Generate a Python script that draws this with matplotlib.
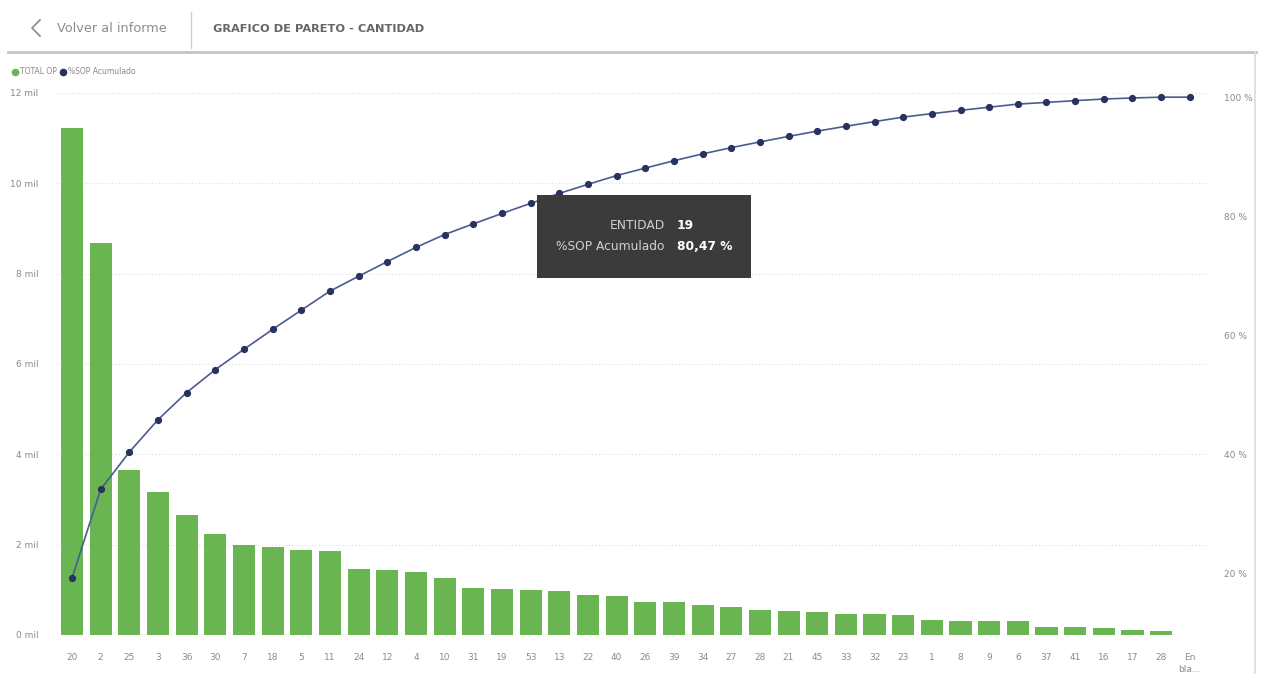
import numpy as np
import matplotlib
matplotlib.use("Agg")
import matplotlib.pyplot as plt
from matplotlib.lines import Line2D
from matplotlib.patches import Rectangle
from matplotlib.ticker import FixedLocator, FuncFormatter

# Entities ordered by TOTAL OP (descending)
entidades = ["20", "2", "25", "3", "36", "30", "7", "18", "5", "11",
             "24", "12", "4", "10", "31", "19", "53", "13", "22", "40",
             "26", "39", "34", "27", "28", "21", "45", "33", "32", "23",
             "1", "8", "9", "6", "37", "41", "16", "17", "28", "En\nbla..."]

total_op = [11220, 8680, 3650, 3170, 2660, 2240, 1990, 1950, 1880, 1860,
            1460, 1430, 1390, 1260, 1040, 1020, 990, 970, 890, 860,
            730, 720, 670, 610, 560, 540, 520, 470, 460, 440,
            340, 320, 310, 300, 170, 170, 160, 100, 80, 0]

left_ticks = [0, 2000, 4000, 6000, 8000, 10000, 12000]
right_ticks = [20, 40, 60, 80, 100]

vals = np.array(total_op, dtype=float)
sop_acumulado = np.cumsum(vals) / vals.sum() * 100

W, H = 1261, 674
fig = plt.figure(figsize=(W / 100, H / 100), dpi=100)
fig.patch.set_facecolor("white")


def px(x, y):
    return x / W, 1 - y / H


# Plot area
ax = fig.add_axes([54.8 / W, 1 - 635 / H, (1207 - 54.8) / W, (635 - 93) / H])
x = np.arange(len(entidades))
ax.bar(x, vals, width=0.77, color="#68b552", zorder=2)
ax.set_xlim(-0.6, len(entidades) - 0.4)
ax.set_ylim(0, 12000)
ax.yaxis.set_major_locator(FixedLocator(left_ticks))
ax.yaxis.set_major_formatter(FuncFormatter(lambda v, p: f"{v / 1000:.0f} mil"))
ax.set_xticks(x)
ax.set_xticklabels(entidades, fontsize=6.5, color="#8a8a8a", linespacing=1.4)
ax.tick_params(axis="x", length=0, pad=13)
ax.tick_params(axis="y", length=0, pad=12, labelsize=6.5, labelcolor="#8a8a8a")
ax.grid(axis="y", color="#dedede", linestyle=(0, (1, 2)), linewidth=0.8, zorder=0)
for s in ax.spines.values():
    s.set_visible(False)

ax2 = ax.twinx()
ax2.plot(x, sop_acumulado, color="#4d5b8f", linewidth=1.2, marker="o",
         markersize=4.2, markerfacecolor="#28325f", markeredgecolor="#28325f", zorder=3)
ax2.set_ylim(9.7, 100.7)
ax2.yaxis.set_major_locator(FixedLocator(right_ticks))
ax2.yaxis.set_major_formatter(FuncFormatter(lambda v, p: f"{v:.0f} %"))
ax2.tick_params(axis="y", length=0, pad=12, labelsize=6.5, labelcolor="#8a8a8a")
for s in ax2.spines.values():
    s.set_visible(False)

# Header bar
fig.add_artist(Line2D([px(40, 0)[0], px(32, 0)[0], px(40, 0)[0]],
                      [px(0, 20)[1], px(0, 28)[1], px(0, 36)[1]],
                      color="#8a8a8a", linewidth=1.2))
fig.text(*px(57, 29), "Volver al informe", fontsize=9.3, color="#8c8c8c", va="center")
fig.add_artist(Line2D([px(191, 0)[0]] * 2, [px(0, 12)[1], px(0, 48)[1]],
                      color="#d0d0d0", linewidth=1))
fig.text(*px(213, 29), "GRAFICO DE PARETO - CANTIDAD", fontsize=8.2, color="#666666",
         va="center", fontweight="bold")
fig.add_artist(Line2D([px(8, 0)[0], px(1256, 0)[0]], [px(0, 52)[1]] * 2,
                      color="#c4c4c4", linewidth=2))
fig.add_artist(Line2D([px(1255, 0)[0]] * 2, [px(0, 52)[1], 0],
                      color="#dcdcdc", linewidth=1.2))

# Legend
fig.add_artist(Line2D([px(15, 0)[0]], [px(0, 72)[1]], marker="o", markersize=4.5,
                      color="#68b552", linestyle="none"))
fig.text(*px(20, 72), "TOTAL OP", fontsize=5.5, color="#8a8a8a", va="center")
fig.add_artist(Line2D([px(63, 0)[0]], [px(0, 72)[1]], marker="o", markersize=4.5,
                      color="#28325f", linestyle="none"))
fig.text(*px(68, 72), "%SOP Acumulado", fontsize=5.5, color="#8a8a8a", va="center")

# Tooltip for entity 19
i19 = 15
bx0, by0, bx1, by1 = 537, 195, 751, 278
fig.add_artist(Rectangle(px(bx0, by1), (bx1 - bx0) / W, (by1 - by0) / H,
                         transform=fig.transFigure, facecolor="#3b3b3b",
                         edgecolor="none", zorder=10))
fig.text(*px(665, 226), "ENTIDAD", fontsize=8.8, color="#d0d0d0", ha="right",
         va="center", zorder=11)
fig.text(*px(677, 226), entidades[i19], fontsize=8.8, color="white", fontweight="bold",
         va="center", zorder=11)
fig.text(*px(665, 246), "%SOP Acumulado", fontsize=8.8, color="#d0d0d0", ha="right",
         va="center", zorder=11)
fig.text(*px(677, 246), f"{sop_acumulado[i19]:.2f} %".replace(".", ","), fontsize=8.8,
         color="white", fontweight="bold", va="center", zorder=11)

fig.savefig("out.png", dpi=100)
